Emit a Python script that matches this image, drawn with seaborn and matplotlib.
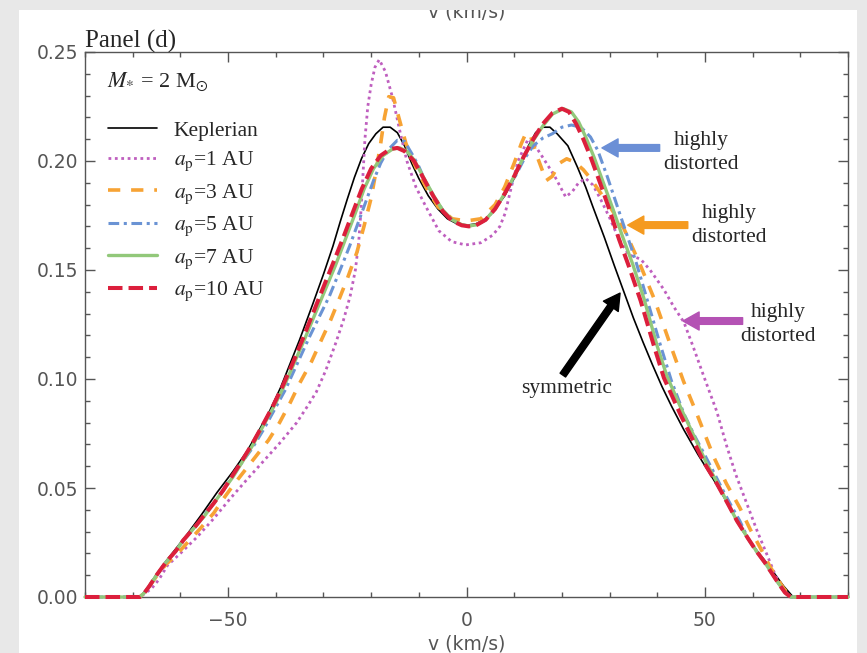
import matplotlib
matplotlib.use("Agg")
import matplotlib.pyplot as plt
import matplotlib.patches as mpatches
from matplotlib.ticker import MultipleLocator, FormatStrFormatter
import seaborn as sns
import pandas as pd

# ---- data (v in km/s, normalised flux) ----
kep_v = [-80, -68.5, -67.5, -66.5, -65, -63, -61, -58.5, -55.5, -52.3, -49, -46, -43.5, -41.25,
         -39, -37, -35, -32.3, -30, -28, -26.5, -25, -23.5, -22, -20.5, -19, -17.5, -16, -14.5,
         -13, -11.5, -10, -8, -6, -4, -2, 0, 2, 4, 6, 8, 10, 11.5, 13, 14.5, 16, 17.5, 19, 21.25,
         23.3, 25, 26.5, 28.9, 31, 33, 35, 37, 39, 41, 43, 45.6, 48.5, 51.9, 55, 58, 61, 63,
         65, 66.5, 67.7, 68.5, 80]
kep_f = [0, 0, 0.0025, 0.0055, 0.0105, 0.0165, 0.022, 0.029, 0.038, 0.048, 0.0575, 0.067, 0.0765, 0.0855,
         0.096, 0.107, 0.118, 0.134, 0.148, 0.161, 0.172, 0.1825, 0.1925, 0.2012, 0.208, 0.2125, 0.2155, 0.2155, 0.213,
         0.207, 0.199, 0.192, 0.184, 0.178, 0.1735, 0.1712, 0.1705, 0.1712, 0.1735, 0.178, 0.184, 0.192, 0.199, 0.207, 0.213, 0.2155, 0.2155, 0.2125, 0.207,
         0.197, 0.188, 0.179, 0.165, 0.152, 0.140, 0.128, 0.117, 0.1065, 0.0965, 0.0875, 0.0766, 0.0655, 0.0535, 0.042, 0.030, 0.021, 0.0155,
         0.0095, 0.005, 0.002, 0, 0]

ap1_v = [-80, -68.5, -67.5, -66, -64.5, -62.7, -60, -56.5, -53, -49.6, -46, -42.7, -39, -35.6, -33.5,
         -31.5, -29.5, -27.5, -25.8, -24.4, -23.3, -22.6, -22.1, -21.7, -21.3, -20.7, -20, -19.2, -18.3,
         -17, -15.5, -14, -12.5, -10.6, -8.5, -5.8, -3.1, -0.2, 3, 5.5, 7, 8.1, 9.4, 10.8, 12.9, 14.4,
         15.6, 18.5, 20.8, 22.2, 23.5, 25, 26.5, 28, 30, 32, 34, 36.5, 38.5, 41.4, 43.5, 45.6, 47.5,
         49.8, 52.5, 54.6, 56.5, 58.75, 61, 62.9, 64.2, 65.2, 66.5, 68, 80]
ap1_f = [0, 0, 0.0015, 0.004, 0.008, 0.0145, 0.020, 0.0275, 0.036, 0.045, 0.054, 0.062, 0.071, 0.080, 0.087,
         0.094, 0.104, 0.116, 0.127, 0.138, 0.150, 0.163, 0.178, 0.194, 0.210, 0.225, 0.235, 0.243, 0.2465,
         0.241, 0.229, 0.214, 0.200, 0.188, 0.179, 0.168, 0.163, 0.1615, 0.1625, 0.166, 0.170, 0.176, 0.188, 0.200, 0.210, 0.207,
         0.203, 0.193, 0.1835, 0.186, 0.190, 0.192, 0.189, 0.183, 0.174, 0.164, 0.157, 0.155, 0.150, 0.141, 0.133, 0.126, 0.115,
         0.101, 0.085, 0.069, 0.056, 0.043, 0.030, 0.020, 0.013, 0.008, 0.003, 0, 0]

ap3_v = [-80, -68.5, -67.5, -66.5, -65, -63, -61, -58.5, -56, -53, -51, -49, -46.5, -44, -41.5, -39.2,
         -37, -35, -32.5, -30.2, -28.5, -27, -25, -23, -21.5, -20, -19, -18, -17.2, -16.3, -15.3, -14.2,
         -12.7, -10.6, -8.5, -6, -3, 0, 3, 6, 8, 10, 11.5, 12.5, 13.5, 15, 16.7, 18, 19.5, 21, 22.7,
         24.5, 26, 29.5, 33, 36.5, 39.5, 42.7, 45.5, 48.3, 51.9, 54.5, 57.3, 59.5, 61.5, 63.5, 65,
         66.5, 68, 80]
ap3_f = [0, 0, 0.002, 0.005, 0.0095, 0.015, 0.019, 0.025, 0.031, 0.0385, 0.045, 0.051, 0.058, 0.065, 0.072, 0.080,
         0.089, 0.098, 0.108, 0.119, 0.127, 0.135, 0.146, 0.158, 0.170, 0.183, 0.195, 0.208, 0.220, 0.2295, 0.229, 0.220,
         0.208, 0.197, 0.188, 0.179, 0.1735, 0.1725, 0.1735, 0.180, 0.188, 0.199, 0.208, 0.213, 0.211, 0.201, 0.191, 0.193, 0.199, 0.201, 0.1995,
         0.196, 0.192, 0.181, 0.169, 0.152, 0.136, 0.116, 0.099, 0.084, 0.064, 0.052, 0.041, 0.031, 0.023, 0.0145, 0.009,
         0.004, 0, 0]

ap5_v = [-80, -68.5, -67.5, -66.5, -65, -63, -61, -59.4, -57, -55.2, -53, -51, -49, -47, -45, -42.5,
         -40.5, -38, -35.5, -33, -31, -28.75, -26.5, -24.5, -22.5, -21, -19.5, -18, -16.5, -14.5, -13,
         -11.5, -10, -8.5, -7, -5, -3, -1, 0.5, 2, 4, 6, 8, 10, 12, 14, 16, 18, 20, 22, 24, 26, 27.5,
         29.5, 31.5, 33.5, 35.5, 37, 39, 40.6, 43, 45.6, 47.7, 50, 51.9, 54, 56, 57.3, 59, 60.8, 62.5,
         64, 65.5, 66.8, 68, 80]
ap5_f = [0, 0, 0.002, 0.005, 0.010, 0.016, 0.021, 0.026, 0.032, 0.037, 0.043, 0.049, 0.0555, 0.062, 0.068, 0.077,
         0.085, 0.095, 0.107, 0.119, 0.128, 0.138, 0.150, 0.161, 0.173, 0.182, 0.191, 0.199, 0.205, 0.2095, 0.209,
         0.2035, 0.1975, 0.190, 0.1845, 0.1775, 0.1727, 0.1707, 0.1702, 0.1707, 0.173, 0.178, 0.185, 0.192, 0.2005, 0.207, 0.2105, 0.2125, 0.2155, 0.2165, 0.2155, 0.211, 0.205,
         0.193, 0.180, 0.167, 0.154, 0.143, 0.128, 0.116, 0.099, 0.084, 0.0745, 0.065, 0.057, 0.048, 0.040, 0.035, 0.027, 0.021, 0.016,
         0.011, 0.006, 0.002, 0, 0]

ap7_v = [-80, -68.5, -67.5, -66.5, -65, -63, -61, -59.4, -57, -55, -53, -51, -49, -47, -45, -42.5,
         -40, -38, -36, -34, -32, -30, -27.5, -25.5, -23.5, -21.5, -19.5, -17.5, -15.5, -14, -12.5,
         -11, -9, -7, -5, -3, -1, 0.5, 2, 4, 6, 8, 10, 12, 14, 16, 18, 20.3, 22, 23.5, 25, 26.7, 28.7,
         30.7, 32.7, 34.8, 37.2, 40, 42, 45.3, 48.1, 50.3, 52.7, 55, 56.7, 59, 60.8, 62.5, 64, 65.5,
         66.8, 68, 80]
ap7_f = [0, 0, 0.002, 0.005, 0.010, 0.016, 0.021, 0.026, 0.032, 0.037, 0.043, 0.049, 0.055, 0.062, 0.069, 0.079,
         0.089, 0.098, 0.108, 0.118, 0.1285, 0.139, 0.152, 0.1635, 0.175, 0.187, 0.1965, 0.2025, 0.2055, 0.206, 0.2045,
         0.2005, 0.1925, 0.1845, 0.1775, 0.173, 0.1708, 0.1702, 0.1707, 0.173, 0.178, 0.185, 0.193, 0.202, 0.2095, 0.216, 0.2215, 0.224, 0.2225, 0.218, 0.211, 0.202, 0.190,
         0.178, 0.1655, 0.153, 0.137, 0.115, 0.1015, 0.085, 0.072, 0.0615, 0.052, 0.042, 0.035, 0.027, 0.021, 0.016, 0.011, 0.006,
         0.002, 0, 0]

ap10_v = [-80, -68.5, -67.5, -66.5, -65, -63, -61, -59.4, -57, -55.2, -53, -51, -49, -47.5, -45, -42.7,
          -40.5, -38.5, -36.5, -34.5, -32.5, -30.4, -28, -26, -24, -22, -20, -18, -16, -14.5, -13, -11,
          -9, -7, -5, -3, -1, 0.5, 2, 4, 6, 8, 10, 12, 14, 16, 18, 20, 21.5, 23, 24.5, 26, 28, 30, 32,
          34, 36.5, 39.4, 41.4, 44.8, 47.7, 50, 52.5, 55, 56.7, 59, 60.8, 62.5, 64, 65.5, 66.8, 68, 80]
ap10_f = [0, 0, 0.002, 0.005, 0.010, 0.016, 0.021, 0.026, 0.032, 0.037, 0.043, 0.049, 0.056, 0.061, 0.070, 0.079,
          0.088, 0.097, 0.107, 0.1175, 0.1285, 0.140, 0.153, 0.164, 0.1755, 0.187, 0.1965, 0.2025, 0.2055, 0.206, 0.2045, 0.200,
          0.192, 0.184, 0.177, 0.1725, 0.1705, 0.170, 0.1705, 0.173, 0.178, 0.185, 0.193, 0.202, 0.210, 0.217, 0.222, 0.224, 0.2225, 0.217, 0.210, 0.202, 0.190, 0.1775, 0.164,
          0.152, 0.136, 0.1145, 0.1005, 0.084, 0.071, 0.061, 0.052, 0.042, 0.035, 0.027, 0.021, 0.016, 0.011, 0.006, 0.002, 0, 0]

labels = ["Keplerian", r"$a_{\rm p}$=1 AU", r"$a_{\rm p}$=3 AU", r"$a_{\rm p}$=5 AU",
          r"$a_{\rm p}$=7 AU", r"$a_{\rm p}$=10 AU"]

# ---- styles ----
styles = [
    dict(color="black", lw=1.2, ls="-"),
    dict(color="#bf5fbf", lw=2.0, ls=(0, (1.0, 1.3))),
    dict(color="#f7a334", lw=2.6, ls=(0, (3.4, 3.0))),
    dict(color="#6a93d4", lw=2.2, ls=(0, (3.5, 1.5, 1.0, 1.5))),
    dict(color="#92c87a", lw=2.4, ls="-"),
    dict(color="#dc1f3c", lw=2.9, ls=(0, (3.6, 1.5))),
]

sns.set_style("ticks")
plt.rcParams["font.family"] = ["DejaVu Sans"]
plt.rcParams["mathtext.fontset"] = "stix"
serif = ["Liberation Serif", "DejaVu Serif"]
gray = "#555555"
bg = "#e8e8e8"

fig = plt.figure(figsize=(8.67, 6.53), dpi=100, facecolor=bg)
panel = mpatches.Rectangle((19 / 867, 0), (857 - 19) / 867, (653 - 10) / 653,
                           transform=fig.transFigure, facecolor="white", edgecolor="none", zorder=-1)
fig.add_artist(panel)

ax = fig.add_axes([85 / 867, 56 / 653, 763 / 867, 545 / 653])
ax.set_facecolor("white")

series = [(kep_v, kep_f), (ap1_v, ap1_f), (ap3_v, ap3_f), (ap5_v, ap5_f), (ap7_v, ap7_f), (ap10_v, ap10_f)]
for (v, f), lab, st in zip(series, labels, styles):
    df = pd.DataFrame({"v": v, "flux": f})
    sns.lineplot(data=df, x="v", y="flux", ax=ax, sort=False, estimator=None,
                 color=st["color"], linewidth=st["lw"], linestyle=st["ls"], label=lab)
for ln in ax.get_lines():
    ln.set_clip_on(False)
    ln.set_zorder(3)

ax.set_xlim(-80, 80)
ax.set_ylim(0, 0.25)
ax.xaxis.set_major_locator(MultipleLocator(50))
ax.xaxis.set_minor_locator(MultipleLocator(10))
ax.yaxis.set_major_locator(MultipleLocator(0.05))
ax.yaxis.set_minor_locator(MultipleLocator(0.01))
ax.yaxis.set_major_formatter(FormatStrFormatter("%.2f"))
ax.tick_params(which="both", direction="in", top=True, right=True, color=gray, width=1,
               labelsize=13.5, labelcolor=gray)
ax.tick_params(which="major", length=7)
ax.tick_params(which="minor", length=3.5)
ax.tick_params(axis="x", pad=10)
ax.tick_params(axis="y", pad=5)
for sp in ax.spines.values():
    sp.set_color(gray)
    sp.set_linewidth(1)
ax.set_xlabel("v (km/s)", fontsize=13.5, color=gray, labelpad=3)
ax.set_ylabel("")

ax.text(0.0, 1.009, "Panel (d)", transform=ax.transAxes, ha="left", va="baseline",
        fontsize=18, family=serif)
ax.text(0.029, 0.945, r"$M_{*}$ = 2 M$_{\odot}$", transform=ax.transAxes, ha="left", va="center",
        fontsize=16, family=serif)

leg = ax.legend(handles=ax.get_lines()[:6], labels=labels, loc="upper left",
                bbox_to_anchor=(0.030, 0.874), frameon=False, prop={"family": serif, "size": 15.5},
                handlelength=2.3, handletextpad=0.75, labelspacing=0.42, borderpad=0, borderaxespad=0)

# ---- annotations ----
arrow_style = "simple,head_width=0.65,head_length=0.58,tail_width=0.24"
notes = [
    ("highly\ndistorted", (49.2, 0.204), (40.5, 0.206), (28.4, 0.206), "#6b8fd6"),
    ("highly\ndistorted", (55.0, 0.1703), (46.4, 0.1706), (33.8, 0.1706), "#f59a1f"),
    ("highly\ndistorted", (65.3, 0.1250), (57.9, 0.1266), (45.4, 0.1266), "#b452b4"),
]
for txt, tpos, tail, tip, col in notes:
    ax.annotate("", xy=tip, xytext=tail,
                arrowprops=dict(arrowstyle=arrow_style, color=col, mutation_scale=20, shrinkA=0, shrinkB=0))
    ax.text(tpos[0], tpos[1], txt, ha="center", va="center", fontsize=15.5, family=serif,
            linespacing=1.35)
ax.annotate("", xy=(32.2, 0.1394), xytext=(20.2, 0.1018),
            arrowprops=dict(arrowstyle=arrow_style, color="black", mutation_scale=20, shrinkA=0, shrinkB=0))
ax.text(20.9, 0.0955, "symmetric", ha="center", va="center", fontsize=15.5, family=serif)

# axis title of the panel above, cut off by the page edge
fig.text(467 / 867, 1 - 17 / 653, "v (km/s)", ha="center", va="baseline", fontsize=13.5,
         color=gray, zorder=1)
top_band = mpatches.Rectangle((0, 1 - 10 / 653), 1, 10 / 653, transform=fig.transFigure,
                              facecolor=bg, edgecolor="none", zorder=10)
fig.add_artist(top_band)

fig.savefig("out.png", dpi=100, facecolor=fig.get_facecolor())
